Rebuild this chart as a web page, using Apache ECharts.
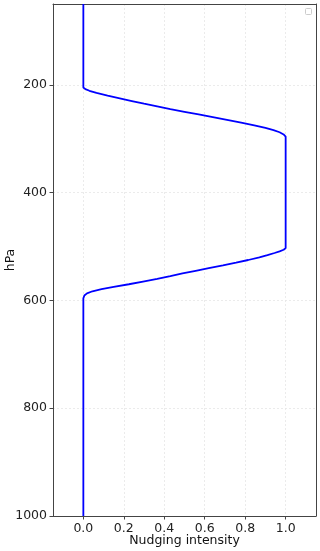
<!DOCTYPE html>
<html>
<head>
<meta charset="utf-8">
<script src="https://cdn.jsdelivr.net/npm/echarts@6/dist/echarts.min.js"></script>
<style>
html,body{margin:0;padding:0;background:#fff;}
#chart{width:320px;height:551px;}
</style>
</head>
<body>
<div id="chart"></div>
<script>
// Pressure levels (hPa) and nudging intensity
const pressure = [50, 205, 208, 211, 215, 220, 225, 230, 235, 240, 245, 250, 255, 260, 265, 270, 275, 280, 284, 288, 292, 296,
  503, 506, 509, 512, 516, 520, 525, 530, 535, 540, 545, 550, 555, 560, 565, 570, 575, 579, 583, 587, 591, 596, 1000];
const intensity = [0, 0, 0.01, 0.03, 0.065, 0.12, 0.18, 0.24, 0.30, 0.365, 0.43, 0.50, 0.57, 0.64, 0.71, 0.78, 0.845, 0.90, 0.94, 0.97, 0.99, 1,
  1, 0.99, 0.97, 0.945, 0.91, 0.87, 0.815, 0.755, 0.69, 0.62, 0.555, 0.49, 0.43, 0.365, 0.295, 0.225, 0.15, 0.09, 0.045, 0.018, 0.005, 0, 0];
const yTicks = [200, 400, 600, 800, 1000];
const xTicks = [0, 0.2, 0.4, 0.6, 0.8, 1.0];
const xLabel = 'Nudging intensity';
const yLabel = 'hPa';

const chart = echarts.init(document.getElementById('chart'));
const font = 'DejaVu Sans';
const axisColor = '#444';
const gridStyle = {color: '#e6e6e6', width: 0.8, type: [2, 2]};
const points = pressure.map((p, i) => [intensity[i], p]);

chart.setOption({
  animation: false,
  backgroundColor: '#fff',
  grid: {left: 53, right: 4, top: 4, bottom: 35, containLabel: false, outerBoundsMode: 'none'},
  xAxis: [{
    type: 'value', min: -0.15, max: 1.15,
    name: xLabel, nameLocation: 'middle', nameGap: 18, nameMoveOverlap: false,
    nameTextStyle: {fontFamily: font, fontSize: 12.5, color: '#111'},
    axisLine: {show: true, onZero: false, lineStyle: {color: axisColor, width: 1}},
    axisTick: {show: true, length: 3.5, inside: false, customValues: xTicks, lineStyle: {color: axisColor}},
    axisLabel: {customValues: xTicks, margin: 6, fontFamily: font, fontSize: 12.5, color: '#222',
      formatter: v => v.toFixed(1)},
    splitLine: {show: true, lineStyle: gridStyle}
  }, {
    type: 'value', min: -0.15, max: 1.15, position: 'top',
    axisLine: {show: true, onZero: false, lineStyle: {color: axisColor, width: 1}},
    axisTick: {show: false}, axisLabel: {show: false}, splitLine: {show: false}
  }],
  yAxis: [{
    type: 'value', min: 50, max: 1000, inverse: true,
    name: yLabel, nameLocation: 'middle', nameGap: 36, nameRotate: 90, nameMoveOverlap: false,
    nameTextStyle: {fontFamily: font, fontSize: 12.5, color: '#111'},
    axisLine: {show: true, onZero: false, lineStyle: {color: axisColor, width: 1}},
    axisTick: {show: true, length: 3.5, customValues: yTicks, lineStyle: {color: axisColor}},
    axisLabel: {customValues: yTicks, margin: 6, fontFamily: font, fontSize: 12.5, color: '#222',
      formatter: v => String(v)},
    splitLine: {show: true, lineStyle: gridStyle}
  }, {
    type: 'value', min: 50, max: 1000, inverse: true, position: 'right',
    axisLine: {show: true, onZero: false, lineStyle: {color: axisColor, width: 1}},
    axisTick: {show: false}, axisLabel: {show: false}, splitLine: {show: false}
  }],
  graphic: [{
    type: 'rect', left: 305, top: 8,
    shape: {width: 6, height: 6, r: 1},
    style: {fill: '#fff', stroke: '#ccc', lineWidth: 1}
  }],
  series: [{
    type: 'line', xAxisIndex: 0, yAxisIndex: 0,
    data: points, showSymbol: false, smooth: false,
    lineStyle: {color: '#0000ff', width: 1.8},
    clip: true
  }]
});
</script>
</body>
</html>
